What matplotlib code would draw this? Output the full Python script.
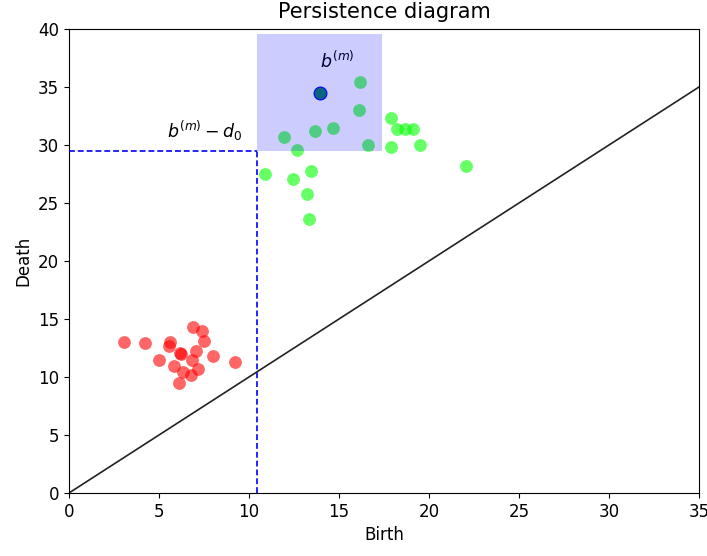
import matplotlib
matplotlib.use("Agg")
import matplotlib.pyplot as plt
from matplotlib.patches import Rectangle

red_birth = [3.06, 4.2, 5.0, 5.6, 5.55, 6.89, 7.39, 7.5, 6.11, 5.83, 6.17, 6.22,
             7.06, 6.83, 6.33, 6.78, 7.17, 8.0, 9.22]
red_death = [13.0, 12.9, 11.5, 13.0, 12.7, 14.3, 13.97, 13.1, 9.48, 10.95, 12.07, 11.98,
             12.24, 11.47, 10.43, 10.17, 10.69, 11.8, 11.29]

green_birth = [16.17, 16.11, 17.89, 18.2, 18.67, 19.1, 14.67, 13.67, 11.94,
               16.61, 17.89, 19.5, 12.67, 10.89, 12.44, 13.44, 22.06, 13.2, 13.33]
green_death = [35.4, 33.0, 32.3, 31.4, 31.4, 31.4, 31.5, 31.2, 30.7,
               30.0, 29.8, 30.0, 29.6, 27.5, 27.1, 27.8, 28.2, 25.8, 23.6]

bm = (13.94, 34.5)
box_x = (10.44, 17.39)
box_y = (29.48, 39.57)
diag = [0, 35]

plt.rcParams['font.size'] = 12

fig = plt.figure(figsize=(7.07, 5.56), dpi=100)
ax = fig.add_axes([69/707, 1-493/556, 630/707, 464/556])

ax.plot(diag, diag, color='#222222', lw=1.2, zorder=1)
ax.scatter(red_birth, red_death, s=85, color='red', alpha=0.6, lw=0, zorder=2)
ax.scatter(green_birth, green_death, s=85, color='lime', alpha=0.6, lw=0, zorder=3)
ax.scatter([bm[0]], [bm[1]], s=85, facecolor='#0f7f60', edgecolor='blue', lw=0.8, zorder=3)

ax.add_patch(Rectangle((box_x[0], box_y[0]), box_x[1]-box_x[0], box_y[1]-box_y[0],
                       facecolor='blue', alpha=0.2, edgecolor='none', zorder=4))
ax.plot([box_x[0], box_x[0]], [0, box_y[0]], ls=(0, (3.5, 1.8)), color='blue', lw=1.2, zorder=5)
ax.plot([0, box_x[0]], [box_y[0], box_y[0]], ls=(0, (3.5, 1.8)), color='blue', lw=1.2, zorder=5)

ax.text(14.9, 37.2, r'$b^{(m)}$', ha='center', va='center', fontsize=12.5)
ax.text(7.56, 31.2, r'$b^{(m)} - d_0$', ha='center', va='center', fontsize=12.5)

ax.set_xlim(0, 35)
ax.set_ylim(0, 40)
ax.set_xticks(range(0, 36, 5))
ax.set_yticks(range(0, 41, 5))
ax.set_xlabel('Birth')
ax.set_ylabel('Death')
ax.set_title('Persistence diagram', fontsize=15, pad=8)

fig.savefig('out.png', dpi=100)
